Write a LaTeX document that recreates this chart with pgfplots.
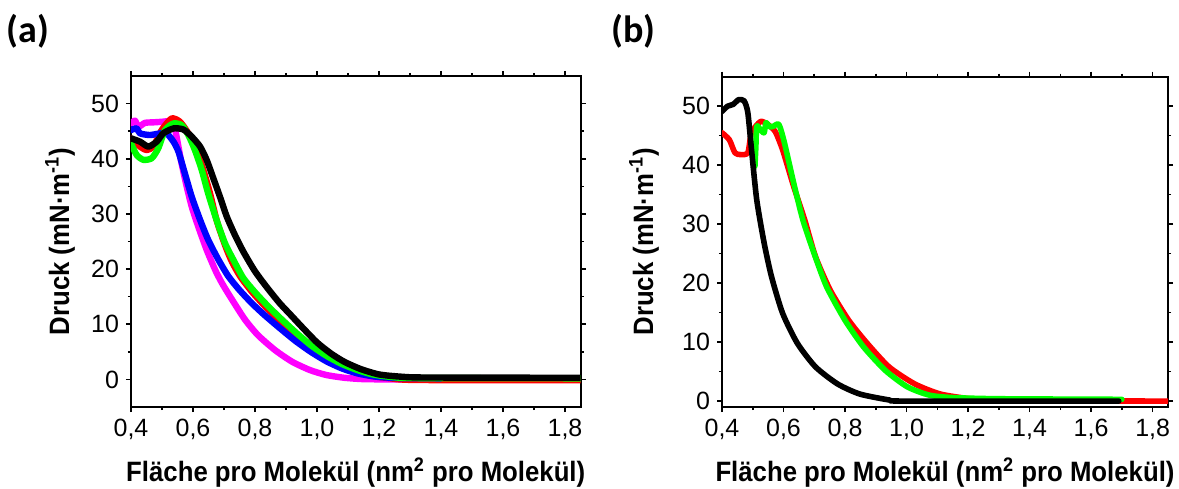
\documentclass[border=0pt]{standalone}
\usepackage{fontspec}
\setmainfont{Liberation Sans}
\newfontfamily\labfont[FakeStretch=0.92]{Liberation Sans}
\newfontfamily\panfont{Carlito}
\usepackage{pgfplots}
\pgfplotsset{compat=1.18}
\definecolor{cmag}{RGB}{255,0,255}
\definecolor{cred}{RGB}{255,0,0}
\definecolor{cgreen}{RGB}{0,255,0}
\definecolor{cblue}{RGB}{0,0,255}
\pgfplotsset{
  lang/.style={
    scale only axis,
    xmin=0.4, xmax=1.85,
    xtick={0.4,0.6,0.8,1.0,1.2,1.4,1.6,1.8},
    ytick={0,10,20,30,40,50},
    minor x tick num=1,
    minor y tick num=1,
    tick align=outside,
    major tick length=2.5pt, minor tick length=1.6pt,
    axis line style={line width=1pt},
    tick style={black, line width=0.8pt},
    xticklabel style={/pgf/number format/.cd, fixed, fixed zerofill, precision=1, use comma},
    ticklabel style={font=\fontsize{12.5}{14}\selectfont},
    /pgf/number format/assume math mode=true,
    label style={font=\fontsize{14}{16}\labfont\bfseries},
    xlabel={Fläche pro Molekül (nm\textsuperscript{2} pro Molekül)},
    ylabel={Druck (mN·m\textsuperscript{-1})},
    xlabel style={at={(axis description cs:0.5,-0.2257)}, anchor=base},
    clip mode=individual,
  },
  curve/.style={line width=#1, line join=round, line cap=round, smooth, tension=0.4},
}
\begin{document}
\begin{tikzpicture}
\useasboundingbox (0,0) rectangle (589.5pt,244pt);
\node[anchor=west, inner sep=0pt, font=\fontsize{19}{22}\panfont\bfseries] at (3pt,228.3pt) {(a)};
\node[anchor=west, inner sep=0pt, font=\fontsize{19}{22}\panfont\bfseries] at (305.5pt,228.3pt) {(b)};
\begin{axis}[lang, at={(65.5pt,40.5pt)}, anchor=south west,
  width=224.75pt, height=165.5pt, ymin=-5, ymax=55,
  ylabel style={at={(axis description cs:-0.158,0.5)}, anchor=center}]
\addplot[color=cmag, curve=3.2pt] table {
0.400 46.4
0.413 46.9
0.424 45.8
0.445 46.5
0.472 46.6
0.500 46.7
0.526 46.8
0.539 46.1
0.549 43.4
0.563 39.2
0.580 34.9
0.596 31.3
0.617 27.7
0.644 23.5
0.672 19.8
0.693 17.5
0.720 15.0
0.767 10.9
0.810 8.0
0.865 5.3
0.920 3.2
0.977 1.7
1.030 0.8
1.088 0.3
1.150 0.05
1.250 0.0
1.300 0.0
};
\addplot[color=cred, curve=3.2pt] table {
0.400 43.7
0.429 42.2
0.450 41.6
0.472 42.2
0.499 45.2
0.531 47.3
0.558 46.7
0.585 44.6
0.612 41.6
0.633 38.0
0.655 33.7
0.676 28.9
0.703 24.4
0.725 21.4
0.752 18.7
0.790 15.9
0.830 13.4
0.870 11.1
0.920 8.5
0.970 6.1
1.020 4.1
1.070 2.6
1.120 1.5
1.170 0.7
1.230 0.25
1.320 -0.1
1.850 -0.15
};
\addplot[color=cblue, curve=3.2pt] table {
0.400 45.2
0.418 45.5
0.429 44.6
0.461 44.3
0.494 44.6
0.515 44.6
0.537 43.1
0.553 41.3
0.574 37.3
0.596 33.1
0.623 28.9
0.649 25.3
0.682 21.7
0.714 18.7
0.750 16.2
0.790 13.8
0.830 11.7
0.880 9.3
0.930 7.0
0.980 5.0
1.030 3.3
1.080 2.0
1.130 1.1
1.190 0.5
1.260 0.25
1.400 0.2
};
\addplot[color=cgreen, curve=3.2pt] table {
0.400 42.8
0.418 40.7
0.440 39.8
0.467 40.1
0.488 41.9
0.510 45.2
0.537 46.4
0.563 46.1
0.585 44.3
0.606 41.6
0.628 38.0
0.649 33.7
0.676 28.9
0.703 24.7
0.730 21.7
0.762 18.4
0.800 15.8
0.840 13.4
0.880 11.2
0.930 8.6
0.980 6.2
1.030 4.3
1.080 2.8
1.130 1.7
1.180 0.9
1.240 0.45
1.320 0.25
1.850 0.2
};
\addplot[color=black, curve=3.2pt] table {
0.400 43.7
0.429 43.1
0.456 42.2
0.483 43.1
0.504 44.6
0.537 45.5
0.569 45.3
0.596 44.0
0.623 42.2
0.644 39.8
0.666 36.4
0.687 33.1
0.709 29.5
0.735 26.2
0.762 23.2
0.800 19.6
0.841 16.5
0.880 13.8
0.915 11.7
0.960 9.0
1.000 6.7
1.045 4.7
1.088 3.2
1.140 1.9
1.200 0.9
1.270 0.5
1.350 0.35
1.850 0.3
};
\end{axis}
\begin{axis}[lang, at={(361pt,40.5pt)}, anchor=south west,
  width=223pt, height=165.15pt, ymin=-1, ymax=55,
  ylabel style={at={(axis description cs:-0.175,0.5)}, anchor=center}]
\addplot[color=cred, curve=2.8pt] table {
0.400 45.5
0.424 44.3
0.442 42.1
0.460 41.8
0.484 42.1
0.496 45.5
0.525 47.4
0.549 46.9
0.573 45.7
0.597 42.6
0.633 36.4
0.669 30.7
0.704 24.5
0.752 18.8
0.812 13.7
0.872 9.8
0.943 5.8
1.027 2.9
1.110 1.2
1.206 0.4
1.300 0.1
1.850 0.0
};
\addplot[color=cgreen, curve=2.8pt] table {
0.507 39.8
0.510 43.0
0.513 46.6
0.525 46.0
0.537 45.5
0.543 47.2
0.555 46.5
0.567 46.6
0.585 46.9
0.603 43.8
0.633 37.0
0.663 30.7
0.699 25.1
0.740 19.4
0.800 13.7
0.860 9.2
0.931 5.2
1.003 2.4
1.075 1.0
1.150 0.6
1.300 0.4
1.700 0.3
};
\addplot[color=black, curve=2.8pt] table {
0.400 49.1
0.418 50.0
0.436 50.3
0.454 51.1
0.472 50.9
0.484 48.9
0.496 42.6
0.513 34.1
0.537 26.8
0.561 21.1
0.597 14.9
0.645 9.8
0.704 5.8
0.776 2.9
0.848 1.2
0.943 0.2
1.000 0.0
1.690 0.0
};
\end{axis}
\end{tikzpicture}
\end{document}
